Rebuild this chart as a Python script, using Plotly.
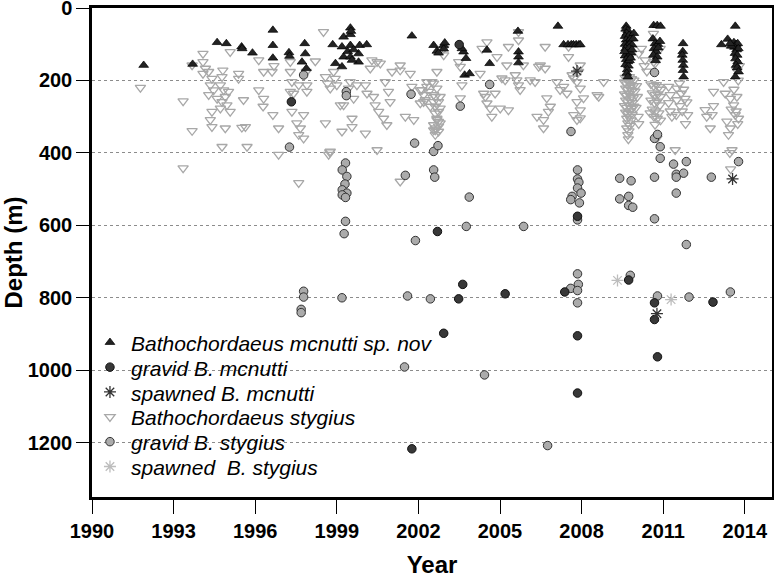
import plotly.graph_objects as go

# ---------------- data (year, depth m) ----------------
B_MCNUTTI = [
    (1991.9, 158), (1993.7, 155), (1994.6, 95), (1994.94, 98), (1995.5, 107), (1995.52, 112), (1995.9, 124),
    (1996.65, 61), (1996.65, 103), (1996.65, 138), (1997.24, 123), (1997.26, 133), (1997.72, 149), (1997.82, 98),
    (1997.84, 126), (1997.88, 167), (1998.85, 101), (1998.95, 153), (1999.19, 162), (1999.25, 80), (1999.5, 73),
    (1999.5, 55), (1999.52, 64), (1999.19, 107), (1999.5, 103), (1999.25, 135), (1999.5, 135), (1999.84, 103),
    (2000.1, 101), (1999.8, 126), (1999.8, 149), (1999.56, 144), (1999.4, 120), (1999.62, 115),
    (2001.76, 77), (2002.56, 103), (2002.68, 119), (2002.93, 103), (2002.93, 113), (2002.97, 96), (2002.74, 124),
    (2003.66, 121), (2003.75, 139), (2003.7, 185), (2003.88, 181), (2003.6, 112), (2004.52, 116), (2004.62, 153),
    (2005.66, 64), (2005.68, 121), (2005.68, 135), (2005.68, 151),
    (2007.13, 50), (2007.34, 101), (2007.5, 101), (2007.62, 101), (2007.7, 101), (2007.8, 101), (2007.9, 101), (2007.95, 101),
    (2009.64, 50), (2009.62, 58), (2009.7, 62), (2009.66, 70), (2009.6, 78), (2009.75, 75), (2009.64, 88), (2009.72, 92),
    (2009.8, 85), (2009.6, 100), (2009.68, 104), (2009.78, 98), (2009.86, 102), (2009.62, 112), (2009.7, 118),
    (2009.75, 110), (2009.66, 126), (2009.6, 132), (2009.74, 130), (2009.82, 124), (2009.64, 142), (2009.7, 148),
    (2009.62, 156), (2009.72, 160), (2009.68, 170), (2009.66, 180), (2009.7, 190), (2009.92, 70), (2009.9, 85),
    (2009.85, 115), (2009.76, 145), (2009.58, 120), (2009.8, 138),
    (2010.65, 48), (2010.78, 48), (2010.9, 50), (2010.62, 85), (2010.7, 98), (2010.8, 100), (2010.88, 92),
    (2010.66, 112), (2010.74, 120), (2010.82, 110), (2010.64, 130), (2010.78, 135), (2010.72, 145),
    (2011.73, 98), (2011.72, 120), (2011.7, 130), (2011.72, 144), (2011.74, 158), (2011.73, 172), (2011.75, 190),
    (2013.14, 101), (2013.37, 86), (2013.65, 50), (2013.6, 95), (2013.68, 100), (2013.74, 98), (2013.62, 108),
    (2013.7, 115), (2013.76, 112), (2013.64, 125), (2013.72, 130), (2013.66, 140), (2013.74, 148), (2013.68, 158),
    (2013.72, 165), (2013.77, 176), (2013.65, 190), (2013.5, 105), (2013.46, 98),
]

GRAVID_MCNUTTI = [
    (1997.33, 259), (2002.7, 617), (2003.5, 101), (2007.85, 575), (2003.63, 763), (2003.48, 803), (2005.19, 789),
    (2002.93, 898), (2007.38, 784), (2007.85, 905), (2007.85, 1063), (2009.73, 751), (2010.68, 814), (2010.68, 860),
    (2010.79, 963), (2012.83, 812), (2001.76, 1217),
]

SPAWNED_MCNUTTI = [(2007.83, 174), (2013.55, 472), (2010.77, 844)]

B_STYGIUS = [
    (1991.78, 220), (1993.35, 257), (1993.68, 339), (1993.35, 442), (1993.68, 158), (1994.08, 126), (1994.08, 149),
    (1994.17, 167), (1994.29, 176), (1994.41, 195), (1994.08, 181), (1994.35, 213), (1994.47, 227), (1994.29, 240),
    (1994.6, 250), (1994.72, 213), (1994.84, 227), (1994.9, 245), (1994.78, 259), (1994.96, 268), (1994.72, 277),
    (1995.02, 231), (1995.08, 121), (1994.78, 190), (1994.81, 172), (1994.41, 286), (1994.35, 309), (1994.41, 328),
    (1995.08, 286), (1994.9, 332), (1994.78, 383), (1995.39, 181), (1995.39, 195), (1995.57, 254), (1995.64, 328),
    (1995.7, 383), (1995.51, 330), (1996.13, 144), (1996.31, 176), (1996.13, 227), (1996.31, 250), (1996.29, 272),
    (1996.62, 176), (1996.65, 295), (1996.86, 332), (1996.86, 405), (1996.69, 160), (1997.29, 149), (1997.29, 176),
    (1997.35, 204), (1997.29, 231), (1997.41, 236), (1997.6, 213), (1997.35, 286), (1997.53, 318), (1997.66, 332),
    (1997.6, 350), (1997.78, 295), (1997.9, 213), (1997.9, 231), (1997.78, 360), (1997.6, 483), (1998.21, 147),
    (1997.88, 176), (1998.51, 66), (1998.58, 190), (1998.66, 208), (1998.76, 222), (1998.58, 318), (1998.76, 396),
    (1998.7, 405), (1998.74, 398), (1998.88, 176), (1998.94, 195), (1999.0, 213), (1999.13, 268), (1999.19, 341),
    (1999.25, 268), (1999.43, 222), (1999.49, 204), (1999.56, 305), (1999.56, 328), (1999.62, 250), (1999.74, 213),
    (2000.05, 213), (2000.11, 236), (2000.05, 346), (2000.29, 144), (2000.48, 149), (2000.6, 153), (2000.23, 167),
    (2000.35, 245), (2000.41, 268), (2000.54, 286), (2000.48, 392), (2000.78, 204), (2000.9, 231), (2000.96, 259),
    (2000.72, 305), (2000.84, 323), (2001.03, 176), (2001.33, 158), (2001.33, 172), (2001.52, 300), (2001.7, 181),
    (2001.83, 309), (2001.76, 217), (2001.33, 479), (2002.19, 259), (2002.31, 204), (2002.56, 208), (2002.68, 222),
    (2002.56, 240), (2002.44, 272), (2002.56, 323), (2002.62, 337),
    (2002.07, 227), (2002.19, 240), (2002.25, 254), (2002.07, 263), (2002.31, 217), (2002.5, 204), (2002.62, 245),
    (2002.56, 259), (2002.74, 259), (2002.8, 277), (2002.62, 291), (2002.68, 305), (2002.74, 314), (2002.8, 318),
    (2002.56, 337), (2002.62, 350), (2002.93, 130), (2002.93, 112),
    (2002.13, 226), (2002.38, 231), (2002.8, 245), (2002.62, 272), (2002.74, 286), (2002.68, 309), (2002.74, 327),
    (2002.62, 332), (2002.74, 341), (2002.68, 176), (2003.48, 149), (2003.54, 162), (2003.6, 213), (2003.54, 249),
    (2004.27, 181), (2004.4, 236), (2004.46, 245), (2004.52, 263), (2004.64, 277), (2004.7, 300), (2005.01, 277),
    (2005.31, 282), (2004.82, 236), (2004.89, 135), (2005.07, 194), (2005.19, 199), (2005.25, 158), (2005.31, 107),
    (2005.56, 185), (2005.62, 199), (2005.68, 213), (2005.74, 226), (2005.68, 89), (2005.68, 66), (2005.86, 158),
    (2006.11, 199), (2006.29, 204), (2006.42, 162), (2006.48, 158), (2006.66, 107), (2006.66, 167), (2006.72, 249),
    (2006.36, 300), (2006.6, 309), (2006.78, 286), (2006.85, 272), (2006.6, 332), (2007.09, 204), (2007.21, 226),
    (2007.34, 217), (2007.46, 236), (2007.52, 135), (2007.71, 194), (2007.83, 204), (2007.95, 222), (2008.07, 249),
    (2007.83, 259), (2007.95, 282), (2007.95, 304), (2007.71, 295), (2007.83, 309), (2007.52, 107), (2008.57, 240),
    (2007.95, 158), (2007.65, 185), (2007.89, 176), (2004.34, 112), (2004.52, 94), (2008.81, 204), (2008.63, 245),
    (2009.6, 192), (2009.68, 195), (2009.76, 190), (2009.84, 196), (2009.92, 200), (2009.58, 205), (2009.66, 210),
    (2009.74, 205), (2009.82, 212), (2009.9, 215), (2009.62, 222), (2009.7, 226), (2009.78, 220), (2009.86, 228),
    (2009.96, 230), (2009.58, 238), (2009.66, 242), (2009.74, 236), (2009.82, 245), (2009.9, 248), (2009.62, 255),
    (2009.7, 260), (2009.78, 252), (2009.86, 262), (2009.58, 270), (2009.66, 275), (2009.74, 268), (2009.82, 278),
    (2009.92, 272), (2009.62, 288), (2009.7, 292), (2009.78, 285), (2009.86, 295), (2009.66, 305), (2009.74, 300),
    (2009.82, 310), (2009.7, 318), (2009.78, 325), (2009.66, 332), (2009.74, 340), (2009.7, 350), (2009.72, 362),
    (2010.02, 215), (2010.05, 245), (2010.0, 275), (2010.08, 300), (2010.1, 320),
    (2010.1, 126), (2010.2, 112), (2010.34, 144), (2010.3, 160), (2010.4, 175), (2010.64, 71), (2010.7, 153),
    (2010.89, 112), (2010.65, 149),
    (2010.55, 210), (2010.65, 215), (2010.75, 212), (2010.85, 218), (2010.92, 225), (2010.6, 235), (2010.7, 240),
    (2010.8, 238), (2010.9, 245), (2010.55, 255), (2010.68, 262), (2010.78, 258), (2010.88, 268), (2010.6, 280),
    (2010.72, 285), (2010.84, 290), (2010.66, 300), (2010.78, 305), (2010.9, 310), (2010.7, 322), (2010.77, 360),
    (2010.52, 290),
    (2011.2, 217), (2011.26, 240), (2011.2, 262), (2011.26, 285), (2011.32, 300), (2011.44, 392), (2011.5, 222),
    (2011.5, 254), (2011.48, 295),
    (2011.6, 208), (2011.66, 236), (2011.8, 250), (2011.87, 260), (2011.62, 270), (2011.9, 295), (2011.75, 225),
    (2011.7, 285), (2011.82, 320),
    (2012.54, 281), (2012.85, 231), (2012.8, 295), (2012.73, 332), (2012.6, 300), (2012.85, 270),
    (2013.22, 204), (2013.28, 236), (2013.47, 250), (2013.34, 313), (2013.4, 350), (2013.47, 332), (2013.59, 268),
    (2013.71, 245), (2013.65, 295), (2013.77, 305), (2013.53, 392), (2013.71, 172), (2013.8, 160), (2013.76, 200),
    (2013.6, 225), (2013.68, 285), (2013.74, 320), (2013.5, 280), (2013.45, 400), (2013.48, 445),
]

GRAVID_STYGIUS = [
    (1997.78, 185), (1999.35, 231), (1999.35, 242), (1997.26, 384), (2001.73, 238), (2001.86, 373), (2002.56, 396),
    (2002.72, 380), (2002.56, 447), (2002.6, 467), (2001.52, 462), (1999.32, 428), (1999.2, 447), (1999.37, 465),
    (1999.3, 486), (1999.2, 502), (1999.37, 511), (1999.2, 516), (1999.32, 523), (1999.32, 589), (1999.27, 623),
    (2001.89, 642), (2003.54, 271), (2004.62, 211), (2003.87, 522), (2007.61, 341), (2007.85, 447), (2007.85, 472),
    (2007.9, 481), (2007.85, 497), (2007.98, 511), (2007.65, 520), (2007.6, 529), (2007.92, 538), (2007.85, 585),
    (2005.87, 603), (2003.76, 603), (2009.4, 470), (2009.82, 477), (2009.4, 527), (2009.73, 520), (2009.73, 545),
    (2009.88, 550), (2010.68, 178), (2010.68, 360), (2010.79, 349), (2010.89, 383), (2010.89, 415), (2010.68, 467),
    (2010.68, 582), (2011.38, 431), (2011.85, 424), (2011.48, 459), (2011.75, 456), (2011.48, 467), (2011.48, 511),
    (2011.85, 653), (2012.77, 467), (2013.77, 424), (2002.44, 803), (2004.43, 1013), (2007.6, 774), (2007.85, 734),
    (2007.88, 763), (2007.85, 780), (2007.85, 814), (2009.79, 738), (2010.79, 795), (2011.95, 798), (2013.47, 784),
    (2006.75, 1208), (1997.78, 782), (1997.78, 798), (1997.69, 832), (1997.69, 841), (1999.19, 800), (2001.6, 795),
    (2001.49, 991),
]

SPAWNED_STYGIUS = [(2009.32, 752), (2011.29, 805)]

LEGEND_LABELS = [
    "Bathochordaeus mcnutti sp. nov",
    "gravid B. mcnutti",
    "spawned B. mcnutti",
    "Bathochordaeus stygius",
    "gravid B. stygius",
    "spawned\u00a0 B. stygius",
]

X_TICKS = list(range(1990, 2015, 3))
Y_TICKS = list(range(0, 1201, 200))


def xs(pairs):
    return [p[0] for p in pairs]


def ys(pairs):
    return [p[1] for p in pairs]


fig = go.Figure()

# draw order: stygius underneath, mcnutti and gravid on top
series = [
    (B_STYGIUS, 3, dict(symbol="triangle-down-open", size=9, color="#a8a8a8", line=dict(width=1.3, color="#a8a8a8"))),
    (GRAVID_STYGIUS, 4, dict(symbol="circle", size=8.5, color="#ababab", line=dict(width=1, color="#333333"))),
    (B_MCNUTTI, 0, dict(symbol="triangle-up", size=8.5, color="#232323", line=dict(width=0.7, color="#000000"))),
    (GRAVID_MCNUTTI, 1, dict(symbol="circle", size=8.5, color="#383838", line=dict(width=1, color="#111111"))),
    (SPAWNED_MCNUTTI, 2, dict(symbol="asterisk-open", size=10, color="#333333", line=dict(width=1.3, color="#333333"))),
    (SPAWNED_STYGIUS, 5, dict(symbol="asterisk-open", size=10, color="#bdbdbd", line=dict(width=1.3, color="#bdbdbd"))),
]

for pairs, li, marker in series:
    fig.add_trace(go.Scatter(
        x=xs(pairs), y=ys(pairs), mode="markers", marker=marker,
        name="", legendrank=li + 1, showlegend=True,
        hovertemplate=LEGEND_LABELS[li] + "<br>%{x:.2f}, %{y} m<extra></extra>",
    ))

FONT = "Liberation Sans, Arial, Helvetica, sans-serif"

# legend labels (text) placed next to the legend symbols
row0 = 0.3136
step = 0.0505
for i, lab in enumerate(LEGEND_LABELS):
    fig.add_annotation(
        x=0.055, y=row0 - i * step, xref="paper", yref="paper",
        xanchor="left", yanchor="middle", showarrow=False,
        text="<i>" + lab + "</i>",
        font=dict(family=FONT, size=21, color="#000"),
    )

fig.update_layout(
    width=774, height=578,
    margin=dict(l=92, r=2, t=8, b=81),
    paper_bgcolor="white", plot_bgcolor="white",
    font=dict(family=FONT, color="#000"),
    legend=dict(
        x=-0.003, y=0.352, xanchor="left", yanchor="top",
        bgcolor="rgba(0,0,0,0)", borderwidth=0,
        font=dict(family=FONT, size=16.8),
        traceorder="normal",
    ),
    xaxis=dict(
        range=[1990, 2015], tickmode="array", tickvals=X_TICKS, ticktext=[str(v) for v in X_TICKS],
        showgrid=False, zeroline=False, automargin=False,
        showline=True, linewidth=2.5, linecolor="black", mirror=True,
        ticks="outside", ticklen=14, tickwidth=1.3, tickcolor="black",
        tickfont=dict(family=FONT, size=20, weight="bold"),
        ticklabeloverflow="allow",
        title=dict(text="Year", font=dict(family=FONT, size=24, weight="bold"), standoff=17),
    ),
    yaxis=dict(
        range=[1350, 0], tickmode="array", tickvals=Y_TICKS, ticktext=[str(v) for v in Y_TICKS],
        showgrid=True, gridcolor="#8c8c8c", gridwidth=1, griddash="dot",
        zeroline=False, automargin=False,
        showline=True, linewidth=2.5, linecolor="black", mirror=True,
        ticks="outside", ticklen=13, tickwidth=1.3, tickcolor="black",
        tickfont=dict(family=FONT, size=20, weight="bold"),
        ticklabeloverflow="allow",
        title=dict(text="Depth (m)", font=dict(family=FONT, size=24, weight="bold"), standoff=4),
    ),
)

fig.write_html("out.html", config={"displayModeBar": False},
               post_script="document.body.style.margin='0px';")
